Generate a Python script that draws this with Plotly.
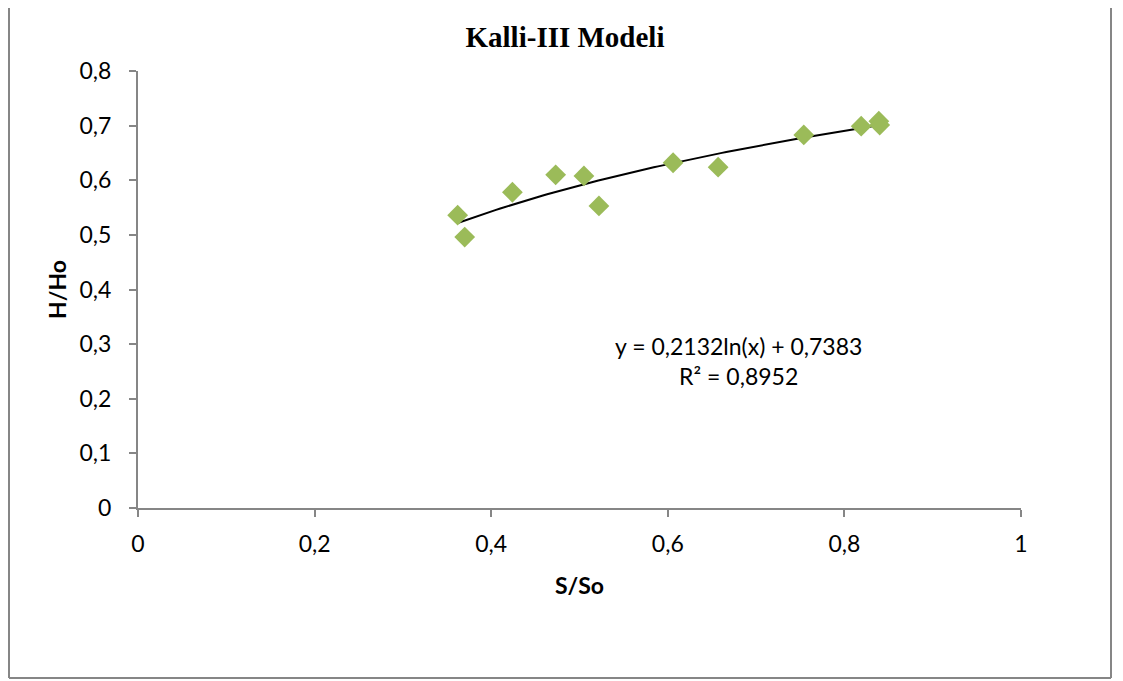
import numpy as np
import plotly.graph_objects as go

x_vals = [0.362, 0.370, 0.424, 0.473, 0.505, 0.522, 0.606, 0.657, 0.754, 0.819, 0.839, 0.840]
y_vals = [0.536, 0.496, 0.578, 0.610, 0.608, 0.553, 0.632, 0.624, 0.683, 0.699, 0.708, 0.701]
trend_a = 0.2132
trend_b = 0.7383
title_text = "Kalli-III Modeli"
eq_text = "y = 0,2132ln(x) + 0,7383<br>R² = 0,8952"

tx = np.linspace(min(x_vals), max(x_vals), 100)
ty = trend_a * np.log(tx) + trend_b

fig = go.Figure()
fig.add_trace(go.Scatter(x=tx, y=ty, mode="lines", line=dict(color="black", width=2), showlegend=False, hoverinfo="skip"))
fig.add_trace(go.Scatter(x=x_vals, y=y_vals, mode="markers",
                         marker=dict(symbol="diamond", size=16, color="#9BBB59", line=dict(width=0)),
                         showlegend=False))

font_main = "Lato"
axis_grey = "#868686"
bx0 = (9 - 138) / 883
bx1 = (1111 - 138) / 883
by0 = (508 - 678) / 437
fig.update_layout(
    width=1115, height=673,
    margin=dict(l=130, r=102, t=63, b=173),
    paper_bgcolor="white", plot_bgcolor="white",
    separators=", ",
    font=dict(family=font_main, size=23, color="black"),
    title=dict(text="<b>" + title_text + "</b>", x=(565 - 8) / 1115, xanchor="center", y=1 - (37 - 8) / 673, yanchor="middle",
               font=dict(family="Liberation Serif", size=29, color="black")),
    xaxis=dict(range=[0, 1], dtick=0.2, tick0=0, showgrid=False, zeroline=False,
               showline=True, linecolor=axis_grey, linewidth=2,
               ticks="outside", ticklen=7, tickcolor=axis_grey, tickwidth=2,
               ticklabelstandoff=7, tickfont=dict(size=23),
               title=dict(text="<b>S/So</b>", standoff=22, font=dict(size=23))),
    yaxis=dict(range=[0, 0.8], dtick=0.1, tick0=0, showgrid=False, zeroline=False,
               showline=True, linecolor=axis_grey, linewidth=2,
               ticks="outside", ticklen=7, tickcolor=axis_grey, tickwidth=2,
               ticklabelstandoff=13, tickfont=dict(size=23),
               title=dict(text="<b>H/Ho</b>", standoff=6, font=dict(size=23))),
    annotations=[dict(text=eq_text, x=0.680, y=0.2696, xref="x", yref="y", showarrow=False,
                      font=dict(size=23, color="black"), align="center")],
    shapes=[
        dict(type="line", xref="paper", yref="paper", x0=bx0, x1=bx0, y0=by0, y1=1.2,
             line=dict(color=axis_grey, width=2)),
        dict(type="line", xref="paper", yref="paper", x0=bx1, x1=bx1, y0=by0, y1=1.2,
             line=dict(color=axis_grey, width=2)),
        dict(type="line", xref="paper", yref="paper", x0=bx0, x1=bx1, y0=by0, y1=by0,
             line=dict(color=axis_grey, width=2)),
    ],
)
fig.write_html("out.html")
